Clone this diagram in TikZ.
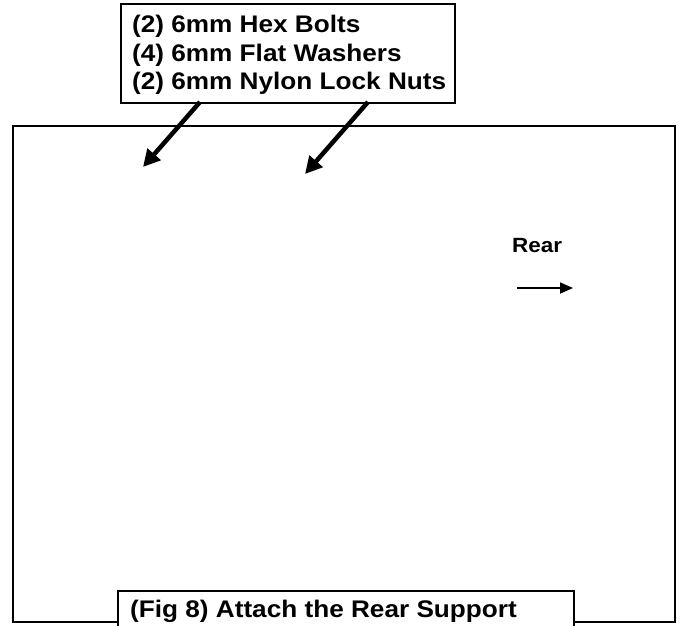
\documentclass[tikz,border=0pt]{standalone}
\usepackage{fontspec}
\setmainfont{Liberation Sans}
\newfontfamily\labfont[FakeStretch=1.09]{Liberation Sans}
\usetikzlibrary{arrows.meta}
\tikzset{
  frameline/.style={line width=1.6pt, line join=miter},
  lab/.style={anchor=base west, inner sep=0pt, font=\labfont\bfseries\fontsize{24}{28}\selectfont},
  fatarrow/.style={line width=4.5pt, -{Triangle[length=17pt,width=17pt]}},
  thinarrow/.style={line width=1.8pt, -{Triangle[length=13pt,width=11pt]}}
}
\begin{document}
\begin{tikzpicture}[x=1pt,y=-1pt]
\useasboundingbox (0,0) rectangle (683,625);
% outer frame
\draw[frameline] (118,622) -- (13,622) -- (13,126) -- (675,126) -- (675,622) -- (574,622);
% caption box
\draw[frameline] (118,626) -- (118,591) -- (574,591) -- (574,626);
\node[lab] (caption) at (130,617) {(Fig 8) Attach the Rear Support};
% parts box
\node[draw, frameline, minimum width=334pt, minimum height=99pt, anchor=north west, inner sep=0pt] (partsbox) at (120,3) {};
\node[lab] (l1) at (132,32.5) {(2) 6mm Hex Bolts};
\node[lab] (l2) at (132,61) {(4) 6mm Flat Washers};
\node[lab] (l3) at (132,89.5) {(2) 6mm Nylon Lock Nuts};
\coordinate (s1) at (200,102);
\coordinate (s2) at (368,102);
\coordinate (t1) at (143,167);
\coordinate (t2) at (305,174);
\draw[fatarrow] (s1) -- (t1);
\draw[fatarrow] (s2) -- (t2);
% rear
\node[anchor=base west, inner sep=0pt, font=\labfont\bfseries\fontsize{20.6}{25}\selectfont] (rear) at (512,252) {Rear};
\coordinate (r1) at (517,288);
\coordinate (r2) at (573,288);
\draw[thinarrow] (r1) -- (r2);
\end{tikzpicture}
\end{document}
